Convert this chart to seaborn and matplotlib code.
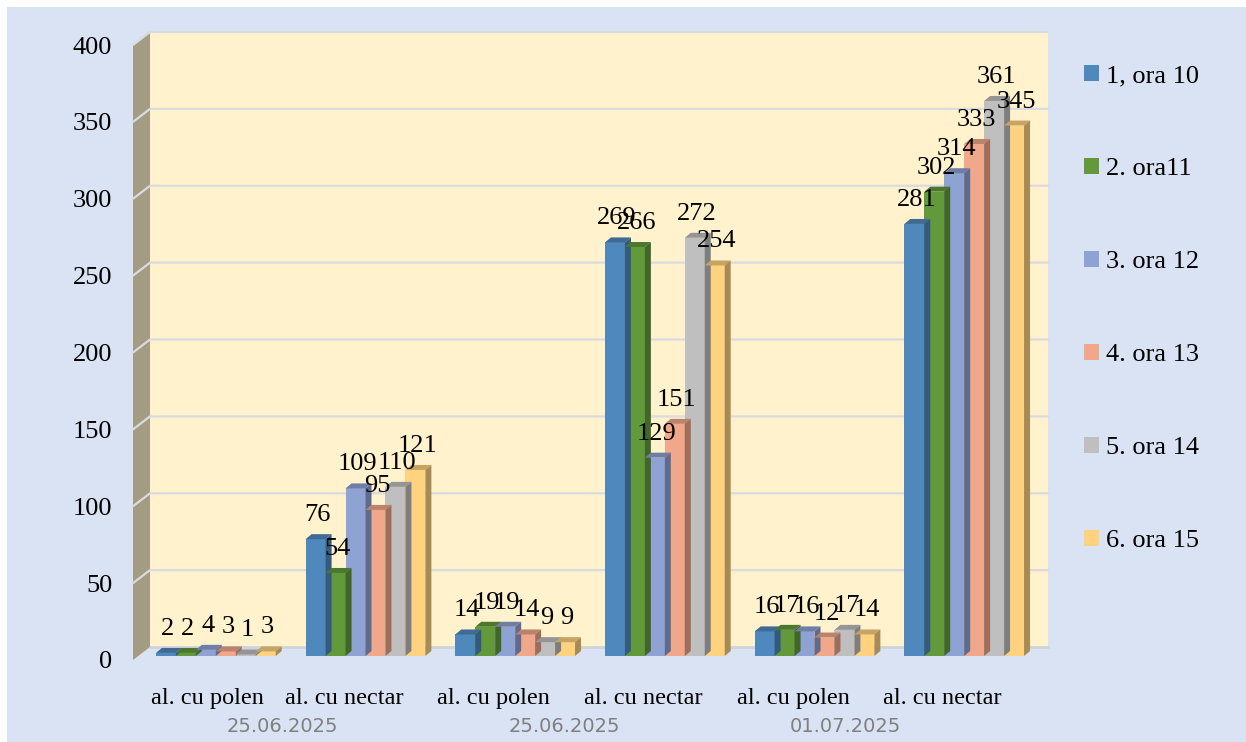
import numpy as np
import pandas as pd
import seaborn as sns
import matplotlib.pyplot as plt
import matplotlib.transforms as mtransforms
from matplotlib.colors import to_rgb
from matplotlib.patches import Polygon, Rectangle

# date
categorii = ["al. cu polen", "al. cu nectar", "al. cu polen",
             "al. cu nectar", "al. cu polen", "al. cu nectar"]
date_zile = ["25.06.2025", "25.06.2025", "01.07.2025"]
serii = ["1, ora 10", "2. ora11", "3. ora 12", "4. ora 13", "5. ora 14", "6. ora 15"]
ora10 = [2, 76, 14, 269, 16, 281]
ora11 = [2, 54, 19, 266, 17, 302]
ora12 = [4, 109, 19, 129, 16, 314]
ora13 = [3, 95, 14, 151, 12, 333]
ora14 = [1, 110, 9, 272, 17, 361]
ora15 = [3, 121, 9, 254, 14, 345]
culori = ["#4f88bd", "#629a3b", "#8fa2d4", "#f0a78a", "#bfbfbf", "#ffd27f"]

rows = []
for s, vals in zip(serii, [ora10, ora11, ora12, ora13, ora14, ora15]):
    for i, v in enumerate(vals):
        rows.append({"grup": i, "serie": s, "valoare": v})
df = pd.DataFrame(rows)

sns.set_style("white")
plt.rcParams['font.family'] = ['Liberation Serif', 'DejaVu Serif']
plt.rcParams['text.color'] = 'black'
plt.rcParams['xtick.color'] = 'black'
plt.rcParams['ytick.color'] = 'black'

W, H = 1246, 742
fig = plt.figure(figsize=(W / 100, H / 100), dpi=100, facecolor="white")
fig.patches.append(Rectangle((7 / W, 0), 1, 1 - 7 / H, transform=fig.transFigure,
                             fc="#dae3f3", ec="none", zorder=-10))

# planul din fata al graficului 3D
left, right, top, bottom = 133, 1031, 45, 660
ax = fig.add_axes([left / W, 1 - bottom / H, (right - left) / W, (bottom - top) / H])
ax.patch.set_alpha(0)

sns.barplot(data=df, x="grup", y="valoare", hue="serie", palette=culori,
            saturation=1, width=0.8, errorbar=None, legend=False,
            linewidth=0, edgecolor="none", ax=ax)
ax.set_xlim(-0.5, 5.5)
ax.set_ylim(0, 400)
sns.despine(ax=ax, left=True, bottom=True)


def px(dx, dy):
    p0 = ax.transData.transform((0, 0))
    return ax.transData.inverted().transform(p0 + np.array([dx, dy]))


# peretii
wdx, wdy = px(17, 13)
x0, x1 = ax.get_xlim()
ax.add_patch(Rectangle((x0 + wdx, wdy), x1 - x0, 400, fc="#fff2cc", ec="none",
                       zorder=0, clip_on=False))
ax.add_patch(Polygon([(x0, 0), (x0, 400), (x0 + wdx, 400 + wdy), (x0 + wdx, wdy)],
                     fc="#a39b82", ec="none", zorder=0, clip_on=False))
ax.plot([x0 + wdx, x1 + wdx], [wdy, wdy], color="#cfd3da", lw=2, zorder=0.5, clip_on=False)
for yv in range(50, 401, 50):
    ax.plot([x0, x0 + wdx, x1 + wdx], [yv, yv + wdy, yv + wdy], color="#d9dbe0",
            lw=1.6, zorder=0.5, clip_on=False)

# bare 3D
shift = mtransforms.ScaledTranslation(8 / 100, 4 / 100, fig.dpi_scale_trans)
tr = ax.transData + shift
bdx, bdy = px(6, 5)
bars = [p for p in ax.patches if isinstance(p, Rectangle) and p.get_width() < 1]
for bar in bars:
    bar.set_transform(tr)
    bar.set_clip_on(False)
    bar.set_zorder(2)
    c = np.array(to_rgb(bar.get_facecolor()))
    bx, bw, h = bar.get_x(), bar.get_width(), bar.get_height()
    ax.add_patch(Polygon([(bx, h), (bx + bw, h), (bx + bw + bdx, h + bdy), (bx + bdx, h + bdy)],
                         fc=c * 0.78, ec="none", transform=tr, zorder=2, clip_on=False))
    ax.add_patch(Polygon([(bx + bw, 0), (bx + bw, h), (bx + bw + bdx, h + bdy), (bx + bw + bdx, bdy)],
                         fc=c * 0.66, ec="none", transform=tr, zorder=2, clip_on=False))
    ax.annotate(f"{h:.0f}", xy=(bx + bw / 2, h), xycoords=tr, xytext=(2, 13),
                textcoords="offset pixels", ha="center", va="bottom",
                fontsize=19, color="black", zorder=5, annotation_clip=False)

ax.set_yticks(range(0, 401, 50))
ax.set_yticklabels([str(v) for v in range(0, 401, 50)], fontsize=19)
ax.set_xticks(np.arange(6) - 0.09 * np.minimum(np.arange(6), 1))
ax.set_xticklabels(categorii, fontsize=17.5)
ax.tick_params(axis="y", length=0, pad=15)
ax.tick_params(axis="x", length=0, pad=20)
ax.set_xlabel("")
ax.set_ylabel("")

for k, d in enumerate(date_zile):
    ax.text(2 * k + 0.5 - 0.12 * k, 0, d,
            transform=mtransforms.blended_transform_factory(ax.transData, ax.transAxes)
            + mtransforms.ScaledTranslation(0, -66 / 100, fig.dpi_scale_trans),
            ha="center", va="center", fontsize=14, color="#7f7f7f", family="DejaVu Sans")

handles = [Rectangle((0, 0), 1, 1, fc=c, ec="none") for c in culori]
fig.legend(handles, serii, loc="upper left", bbox_to_anchor=(1084 / W, 1 - 65 / H),
           frameon=False, prop={"family": "Liberation Serif", "size": 19},
           handlelength=0.55, handleheight=0.55, handletextpad=0.3,
           labelspacing=2.68, borderpad=0, borderaxespad=0)

fig.savefig("out.png", dpi=100, facecolor=fig.get_facecolor())
